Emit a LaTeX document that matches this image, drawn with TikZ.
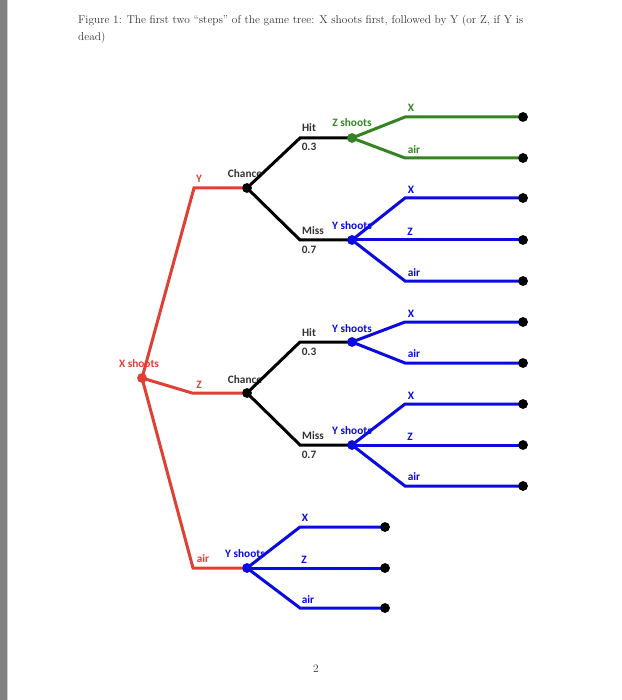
\documentclass[tikz,border=0pt]{standalone}
\usepackage{fontspec}
\newfontfamily\lblfont{Carlito}
\definecolor{tred}{RGB}{224,64,52}
\definecolor{tgreen}{RGB}{52,132,36}
\definecolor{tblue}{RGB}{10,10,225}
\definecolor{tgray}{RGB}{50,50,50}
\tikzset{
  dotnode/.style={circle,fill=#1,inner sep=0pt,minimum size=9.5pt},
  lbl/.style={font=\lblfont\bfseries\fontsize{11.3}{12}\selectfont,text=#1,inner sep=0pt},
  redl/.style={draw=tred,line width=3pt,line join=miter},
  blkl/.style={draw=black,line width=3pt,line join=miter},
  grnl/.style={draw=tgreen,line width=3pt,line join=miter},
  blul/.style={draw=tblue,line width=3pt,line join=miter},
  capt/.style={font=\fontsize{11.35}{13}\selectfont,text=black!80,inner sep=0pt,anchor=base west}
}
\begin{document}
\begin{tikzpicture}[x=1pt,y=-1pt]
\useasboundingbox (0,0) rectangle (621,700);
\fill[white] (0,0) rectangle (621,700);
\fill[gray] (0,0) rectangle (7,700);
\draw[gray!40,line width=0.6pt] (7.6,0) -- (7.6,700);
% caption
\node[capt] (cap1) at (78,24) {Figure 1: The first two ``steps'' of the game tree: X shoots first, followed by Y (or Z, if Y is};
\node[capt] (cap2) at (78,41) {dead)};
\node[capt,anchor=base] (pg) at (316,672) {2};

% labels (drawn under the lines)
\node[lbl=tred] (lxs) at (139,364) {X shoots};
\node[lbl=tred] (ly) at (199,179) {Y};
\node[lbl=tred] (lz) at (199,385) {Z};
\node[lbl=tred] (lair) at (203,559) {air};
\node[lbl=tgray] (lch1) at (245,174) {Chance};
\node[lbl=tgray] (lch2) at (245,380) {Chance};
% top chance
\node[lbl=tgray] (lhit1) at (309,128) {Hit};
\node[lbl=tgray] (lp1) at (309,147) {0.3};
\node[lbl=tgray] (lmiss1) at (313,231) {Miss};
\node[lbl=tgray] (lq1) at (309,250) {0.7};
\node[lbl=tgreen] (lzs) at (352,123) {Z shoots};
\node[lbl=tgreen] (lg1) at (411,108) {X};
\node[lbl=tgreen] (lg2) at (414,150) {air};
\node[lbl=tblue] (lys1) at (352,226) {Y shoots};
\node[lbl=tblue] (lb1) at (411,190) {X};
\node[lbl=tblue] (lb2) at (410,232) {Z};
\node[lbl=tblue] (lb3) at (414,273) {air};
% middle chance
\node[lbl=tgray] (lhit2) at (309,333) {Hit};
\node[lbl=tgray] (lp2) at (309,352) {0.3};
\node[lbl=tgray] (lmiss2) at (313,436) {Miss};
\node[lbl=tgray] (lq2) at (309,455) {0.7};
\node[lbl=tblue] (lys2) at (352,329) {Y shoots};
\node[lbl=tblue] (lc1) at (411,314) {X};
\node[lbl=tblue] (lc2) at (414,354) {air};
\node[lbl=tblue] (lys3) at (352,431) {Y shoots};
\node[lbl=tblue] (ld1) at (411,396) {X};
\node[lbl=tblue] (ld2) at (410,437) {Z};
\node[lbl=tblue] (ld3) at (414,477) {air};
% bottom
\node[lbl=tblue] (lys4) at (245,554) {Y shoots};
\node[lbl=tblue] (le1) at (305,518) {X};
\node[lbl=tblue] (le2) at (304,560) {Z};
\node[lbl=tblue] (le3) at (308,600) {air};

% corner coordinates
\coordinate (cy) at (194,188);
\coordinate (cz) at (192,393);
\coordinate (cair) at (193,568);
\coordinate (chit1) at (300,138);
\coordinate (cmiss1) at (300,240);
\coordinate (chit2) at (300,342);
\coordinate (cmiss2) at (300,445);
\coordinate (g1) at (405,117);
\coordinate (g2) at (405,158);
\coordinate (b1) at (405,198);
\coordinate (b3) at (405,281);
\coordinate (c1) at (405,322);
\coordinate (c2) at (405,363);
\coordinate (d1) at (405,404);
\coordinate (d3) at (405,486);
\coordinate (e1) at (300,527);
\coordinate (e3) at (300,608);

% decision / chance nodes
\node[dotnode=tred] (xs) at (142,378) {};
\node[dotnode=black] (ch1) at (247,188) {};
\node[dotnode=black] (ch2) at (247,393) {};
\node[dotnode=tblue] (ys4) at (247,568) {};
\node[dotnode=tgreen] (zs) at (352,138) {};
\node[dotnode=tblue] (ys1) at (352,240) {};
\node[dotnode=tblue] (ys2) at (352,342) {};
\node[dotnode=tblue] (ys3) at (352,445) {};
% terminal nodes
\node[dotnode=black] (t1) at (523,117) {};
\node[dotnode=black] (t2) at (523,158) {};
\node[dotnode=black] (t3) at (523,198) {};
\node[dotnode=black] (t4) at (523,240) {};
\node[dotnode=black] (t5) at (523,281) {};
\node[dotnode=black] (t6) at (523,322) {};
\node[dotnode=black] (t7) at (523,363) {};
\node[dotnode=black] (t8) at (523,404) {};
\node[dotnode=black] (t9) at (523,445) {};
\node[dotnode=black] (t10) at (523,486) {};
\node[dotnode=black] (t11) at (385,527) {};
\node[dotnode=black] (t12) at (385,568) {};
\node[dotnode=black] (t13) at (385,608) {};

% connectors
\draw[redl] (xs.center) -- (cy) -- (ch1.center);
\draw[redl] (xs.center) -- (cz) -- (ch2.center);
\draw[redl] (xs.center) -- (cair) -- (ys4.center);
\draw[blkl] (ch1.center) -- (chit1) -- (zs.center);
\draw[blkl] (ch1.center) -- (cmiss1) -- (ys1.center);
\draw[blkl] (ch2.center) -- (chit2) -- (ys2.center);
\draw[blkl] (ch2.center) -- (cmiss2) -- (ys3.center);
\draw[grnl] (zs.center) -- (g1) -- (t1.center);
\draw[grnl] (zs.center) -- (g2) -- (t2.center);
\draw[blul] (ys1.center) -- (b1) -- (t3.center);
\draw[blul] (ys1.center) -- (t4.center);
\draw[blul] (ys1.center) -- (b3) -- (t5.center);
\draw[blul] (ys2.center) -- (c1) -- (t6.center);
\draw[blul] (ys2.center) -- (c2) -- (t7.center);
\draw[blul] (ys3.center) -- (d1) -- (t8.center);
\draw[blul] (ys3.center) -- (t9.center);
\draw[blul] (ys3.center) -- (d3) -- (t10.center);
\draw[blul] (ys4.center) -- (e1) -- (t11.center);
\draw[blul] (ys4.center) -- (t12.center);
\draw[blul] (ys4.center) -- (e3) -- (t13.center);

% redraw dots on top of lines
\foreach \n/\c in {xs/tred,ch1/black,ch2/black,ys4/tblue,zs/tgreen,ys1/tblue,ys2/tblue,ys3/tblue,t1/black,t2/black,t3/black,t4/black,t5/black,t6/black,t7/black,t8/black,t9/black,t10/black,t11/black,t12/black,t13/black}
  \fill[\c] (\n.center) circle (4.75pt);
\end{tikzpicture}
\end{document}
